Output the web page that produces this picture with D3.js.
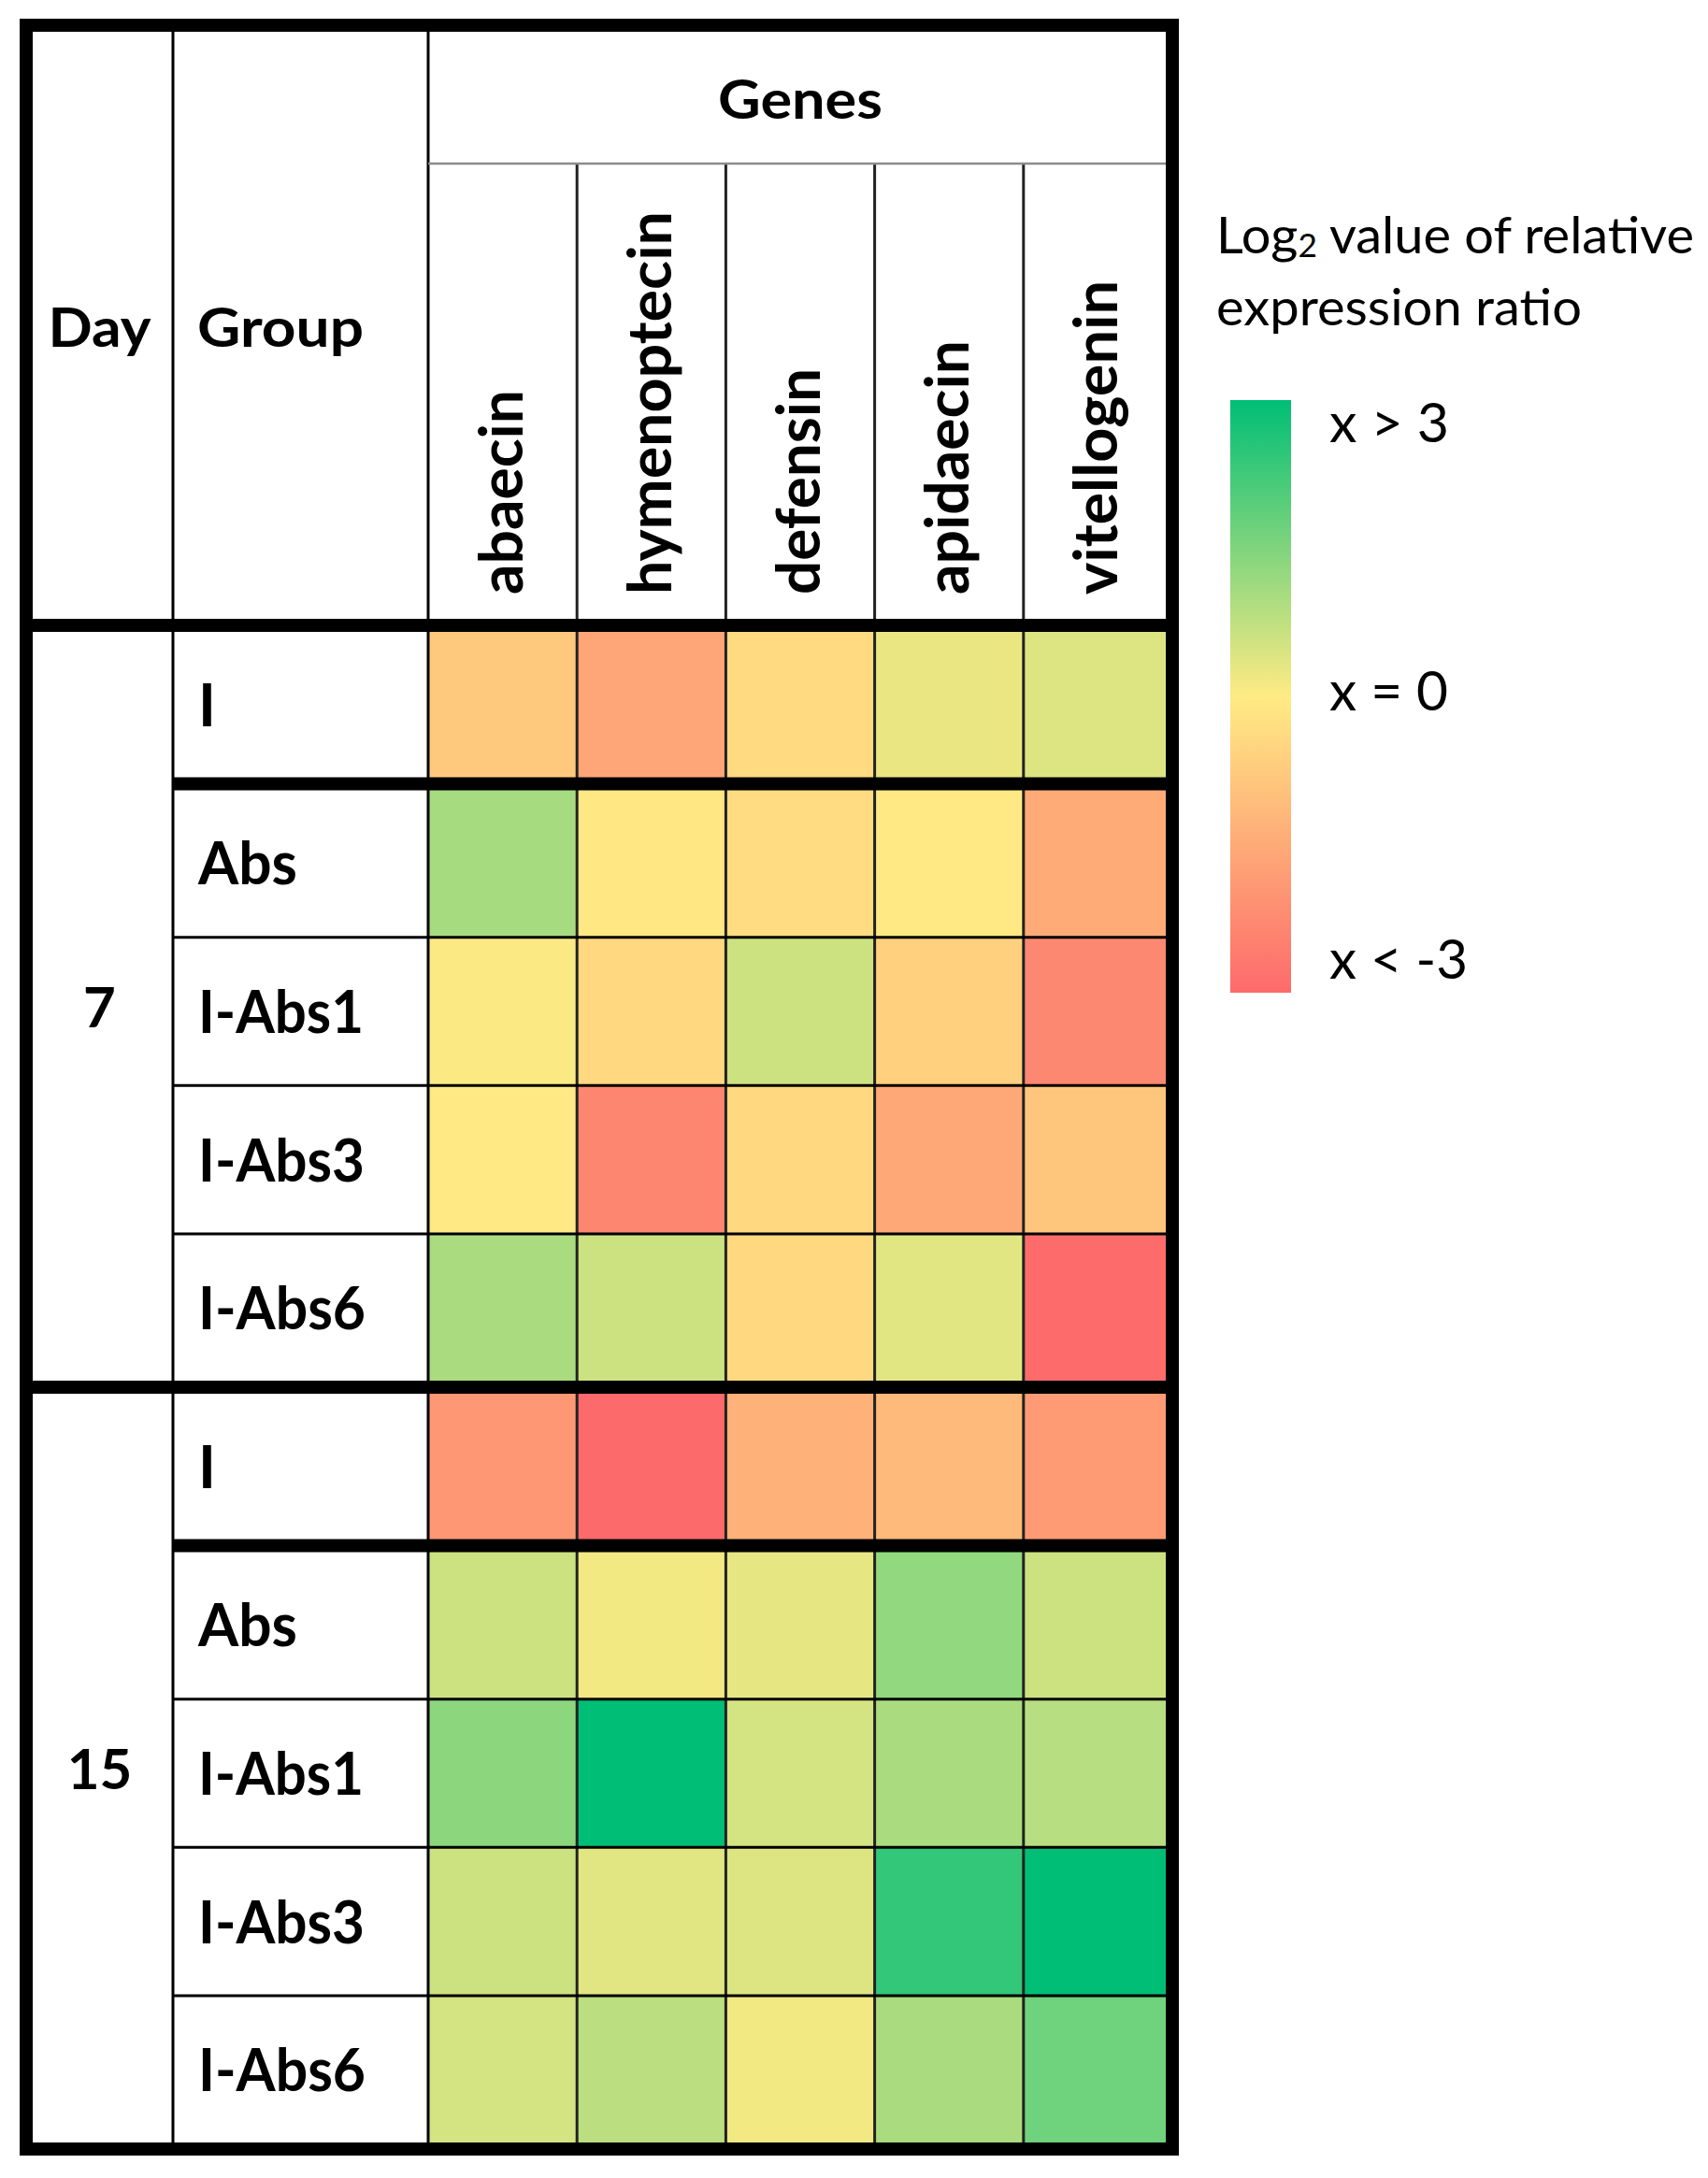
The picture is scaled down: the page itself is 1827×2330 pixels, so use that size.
<!DOCTYPE html>
<html>
<head>
<meta charset="utf-8">
<script src="https://cdn.jsdelivr.net/npm/d3@7"></script>
<style>
  body { margin: 0; background: #fff; }
  text { font-family: Lato, "Open Sans", sans-serif; fill: #000; }
</style>
</head>
<body>
<div id="chart"></div>
<script>
// data (log2 relative expression)
const genes = ['abaecin', 'hymenoptecin', 'defensin', 'apidaecin', 'vitellogenin']
const days = ['7', '15']
const groups = ['I', 'Abs', 'I-Abs1', 'I-Abs3', 'I-Abs6']

const day7Values = [
  [-0.8, -1.6, -0.4, 0.25, 0.4],
  [1.05, -0.1, -0.35, -0.05, -1.5],
  [0.05, -0.45, 0.6, -0.6, -2.3],
  [-0.05, -2.35, -0.45, -1.55, -0.85],
  [1.0, 0.6, -0.45, 0.35, -2.95]
]
const day15Values = [
  [-1.95, -3.0, -1.35, -1.15, -1.85],
  [0.6, 0.15, 0.3, 1.3, 0.6],
  [1.35, 3.0, 0.5, 1.0, 0.85],
  [0.6, 0.35, 0.4, 2.4, 3.0],
  [0.5, 0.8, 0.15, 1.0, 1.7]
]
const legendTitle = ['value of relative', 'expression ratio']
const legendLabels = ['x > 3', 'x = 0', 'x < -3']
const legendStops = [3, 0, -3]

const W = 1827, H = 2330
const xLeft = 28, dayRight = 185, groupRight = 458, xRight = 1254
const yTop = 27, genesLine = 175, headerBottom = 669, yBottom = 2299
const thick = 14, thin = 3

const svg = d3.select('#chart').append('svg')
  .attr('width', W).attr('height', H)

const color = d3.scaleLinear()
  .domain([-3, 0, 3])
  .range(['#FD6A6B', '#FFEB84', '#00BE76'])
  .clamp(true)

const x = d3.scaleBand().domain(genes).range([groupRight, xRight])

// rows: line after each row is thick after "I" and after a day block, thin otherwise
const rows = []
days.forEach(d => groups.forEach((g, i) => rows.push({day: d, group: g, gi: i})))
const lineAfter = r => (r.group === 'I' || r.gi === groups.length - 1) ? thick : thin
const nLines = rows.slice(0, -1).reduce((s, r) => s + lineAfter(r), 0)
const rowH = (yBottom - headerBottom - thick - nLines) / rows.length
const rowTops = []
let yy = headerBottom + thick / 2
rows.forEach(r => { rowTops.push(yy); yy += rowH + lineAfter(r) })
const y = d3.scaleOrdinal().domain(rows.map(r => r.day + '|' + r.group)).range(rowTops)

const cells = []
rows.forEach(r => {
  const vals = r.day === '7' ? day7Values : day15Values
  genes.forEach((g, j) => cells.push({key: r.day + '|' + r.group, gene: g, value: vals[r.gi][j]}))
})

svg.append('g').selectAll('rect')
  .data(cells)
  .enter().append('rect')
  .attr('x', d => x(d.gene))
  .attr('width', x.bandwidth())
  .attr('y', d => y(d.key) - 1)
  .attr('height', rowH + 2)
  .style('fill', d => color(d.value))

// grid lines
const lines = svg.append('g').attr('stroke', '#000')
const hline = (x1, x2, yv, w, c) => lines.append('line')
  .attr('x1', x1).attr('x2', x2).attr('y1', yv).attr('y2', yv)
  .attr('stroke-width', w).attr('stroke', c || '#000')
const vline = (xv, y1, y2, w, c) => lines.append('line')
  .attr('x1', xv).attr('x2', xv).attr('y1', y1).attr('y2', y2)
  .attr('stroke-width', w).attr('stroke', c || '#000')

vline(dayRight, yTop, yBottom, thin)
vline(groupRight, yTop, yBottom, thin)
genes.slice(1).forEach(g => vline(x(g), genesLine, yBottom, thin, '#222'))
hline(groupRight, xRight, genesLine, 2.5, '#8c8c8c')
hline(xLeft, xRight, headerBottom, thick)
rows.slice(0, -1).forEach(r => {
  const w = lineAfter(r)
  const yl = y(r.day + '|' + r.group) + rowH + w / 2
  const endOfDay = r.gi === groups.length - 1
  hline(endOfDay ? xLeft : dayRight, xRight, yl, w)
})
lines.append('rect')
  .attr('x', xLeft).attr('y', yTop)
  .attr('width', xRight - xLeft).attr('height', yBottom - yTop)
  .attr('fill', 'none').attr('stroke-width', thick)

// header texts
const hdr = svg.append('g').attr('font-weight', 700)
hdr.append('text').attr('x', (xLeft + dayRight) / 2).attr('y', 371)
  .attr('text-anchor', 'middle').attr('font-size', 58)
  .attr('textLength', 110).attr('lengthAdjust', 'spacingAndGlyphs').text('Day')
hdr.append('text').attr('x', 211).attr('y', 371)
  .attr('font-size', 58)
  .attr('textLength', 178).attr('lengthAdjust', 'spacingAndGlyphs').text('Group')
hdr.append('text').attr('x', (groupRight + xRight) / 2).attr('y', 127)
  .attr('text-anchor', 'middle').attr('font-size', 58)
  .attr('textLength', 176).attr('lengthAdjust', 'spacingAndGlyphs').text('Genes')

const geneLen = {abaecin: 219, hymenoptecin: 410, defensin: 242, apidaecin: 272, vitellogenin: 336}
hdr.selectAll('.gene')
  .data(genes)
  .enter().append('text')
  .attr('class', 'gene')
  .attr('transform', d => `translate(${x(d) + x.bandwidth() / 2 + 21},636) rotate(-90)`)
  .attr('font-size', 65)
  .attr('textLength', d => geneLen[d])
  .attr('lengthAdjust', 'spacingAndGlyphs')
  .text(d => d)

// row labels
const groupLen = {'Abs': 106, 'I-Abs1': 177, 'I-Abs3': 178, 'I-Abs6': 179}
hdr.selectAll('.group')
  .data(rows)
  .enter().append('text')
  .attr('class', 'group')
  .attr('x', 212)
  .attr('y', d => y(d.day + '|' + d.group) + rowH / 2 + 23)
  .attr('font-size', 64)
  .each(function (d) {
    if (groupLen[d.group]) d3.select(this).attr('textLength', groupLen[d.group]).attr('lengthAdjust', 'spacingAndGlyphs')
  })
  .text(d => d.group)

hdr.selectAll('.day')
  .data(days)
  .enter().append('text')
  .attr('class', 'day')
  .attr('x', (xLeft + dayRight) / 2)
  .attr('y', d => {
    const t0 = y(d + '|' + groups[0])
    const t1 = y(d + '|' + groups[groups.length - 1]) + rowH
    return (t0 + t1) / 2 + 22
  })
  .attr('text-anchor', 'middle')
  .attr('font-size', 60)
  .text(d => d)

// legend
const legend = svg.append('g')
const title1 = legend.append('text').attr('x', 1301).attr('y', 271).attr('font-size', 54)
  .attr('textLength', 511).attr('lengthAdjust', 'spacingAndGlyphs')
title1.append('tspan').text('Log')
title1.append('tspan').attr('font-size', 34).attr('dy', 4).text('2')
title1.append('tspan').attr('dy', -4).text(' ' + legendTitle[0])
legend.append('text').attr('x', 1301).attr('y', 348).attr('font-size', 54)
  .attr('textLength', 391).attr('lengthAdjust', 'spacingAndGlyphs')
  .text(legendTitle[1])

const grad = svg.append('defs').append('linearGradient')
  .attr('id', 'legendGrad')
  .attr('x1', 0).attr('y1', 0).attr('x2', 0).attr('y2', 1)
grad.selectAll('stop')
  .data(legendStops)
  .enter().append('stop')
  .attr('offset', (d, i) => i / (legendStops.length - 1))
  .attr('stop-color', d => color(d))

legend.append('rect')
  .attr('x', 1316).attr('y', 428)
  .attr('width', 65).attr('height', 634)
  .attr('fill', 'url(#legendGrad)')

const ly = d3.scaleLinear().domain([3, -3]).range([452, 1026])
const labLen = [128, 127, 148]
legend.selectAll('.lab')
  .data(legendStops)
  .enter().append('text')
  .attr('class', 'lab')
  .attr('x', 1422)
  .attr('y', d => ly(d) + 21)
  .attr('font-size', 59)
  .attr('textLength', (d, i) => labLen[i])
  .attr('lengthAdjust', 'spacingAndGlyphs')
  .text((d, i) => legendLabels[i])
</script>
</body>
</html>
